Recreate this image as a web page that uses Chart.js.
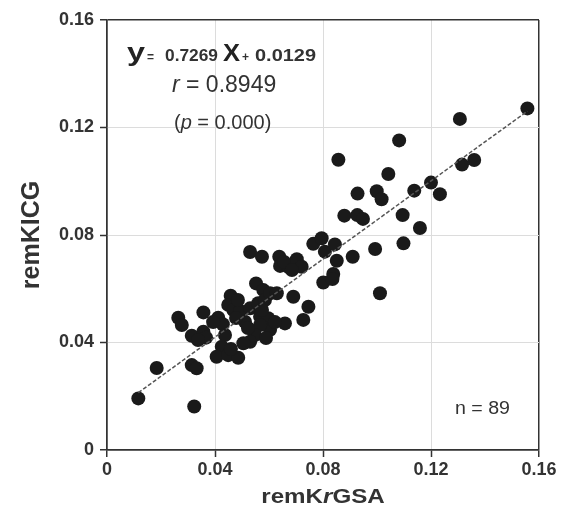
<!DOCTYPE html>
<html>
<head>
<meta charset="utf-8">
<script src="https://cdn.jsdelivr.net/npm/chart.js@4.4.1/dist/chart.umd.min.js"></script>
<style>
  html, body { margin: 0; padding: 0; background: #ffffff; }
  #wrap { position: relative; width: 561px; height: 517px; }
</style>
</head>
<body>
<div id="wrap"><canvas id="c" width="561" height="517"></canvas></div>
<script>
// ---- data ----
const xValues = [
  0.0116, 0.0184, 0.0323, 0.0314, 0.0332, 0.0264, 0.0277, 0.0314, 0.0357, 0.0357,
  0.0367, 0.0412, 0.0429, 0.0437, 0.0458, 0.0449, 0.0468, 0.0493, 0.0511, 0.0530,
  0.0552, 0.0579, 0.0560, 0.0585, 0.0604, 0.0629, 0.0690, 0.0567, 0.0597, 0.0604,
  0.0567, 0.0659, 0.0548, 0.0530, 0.0505, 0.0425, 0.0406, 0.0449, 0.0486, 0.0746,
  0.0727, 0.0530, 0.0574, 0.0638, 0.0641, 0.0671, 0.0703, 0.0721, 0.0764, 0.0795,
  0.0807, 0.0844, 0.0801, 0.0838, 0.0835, 0.0851, 0.0910, 0.0993, 0.1098, 0.1011,
  0.0879, 0.0927, 0.0948, 0.1095, 0.1159, 0.0928, 0.0999, 0.1017, 0.1138, 0.1200,
  0.1233, 0.1042, 0.0857, 0.1082, 0.1315, 0.1360, 0.1307, 0.1557, 0.0478, 0.0522,
  0.0574, 0.0485, 0.0622, 0.0393, 0.0589, 0.0656, 0.0685, 0.0459, 0.0337
];
const yValues = [
  0.0192, 0.0305, 0.0162, 0.0316, 0.0304, 0.0492, 0.0465, 0.0425, 0.0512, 0.0440,
  0.0418, 0.0492, 0.0468, 0.0428, 0.0574, 0.0540, 0.0521, 0.0517, 0.0477, 0.0527,
  0.0620, 0.0595, 0.0546, 0.0558, 0.0583, 0.0583, 0.0570, 0.0496, 0.0490, 0.0447,
  0.0465, 0.0471, 0.0428, 0.0403, 0.0397, 0.0384, 0.0347, 0.0353, 0.0343, 0.0533,
  0.0484, 0.0737, 0.0719, 0.0719, 0.0685, 0.0682, 0.0710, 0.0682, 0.0767, 0.0788,
  0.0738, 0.0765, 0.0623, 0.0655, 0.0636, 0.0704, 0.0719, 0.0748, 0.0769, 0.0583,
  0.0872, 0.0874, 0.0860, 0.0874, 0.0826, 0.0954, 0.0963, 0.0933, 0.0965, 0.0995,
  0.0952, 0.1027, 0.1080, 0.1152, 0.1062, 0.1079, 0.1232, 0.1271, 0.0491, 0.0454,
  0.0521, 0.0558, 0.0476, 0.0476, 0.0417, 0.0700, 0.0670, 0.0376, 0.0409
];
const slope = 0.7269;
const intercept = 0.0129;
const xTicks = [0, 0.04, 0.08, 0.12, 0.16];
const yTicks = [0, 0.04, 0.08, 0.12, 0.16];
const xTitle = ['remK', 'r', 'GSA'];
const yTitle = 'remKICG';
const nLabel = 'n = 89';

// ---- derived ----
const points = xValues.map((x, i) => ({ x: x, y: yValues[i] }));
const xMin = Math.min(...xValues), xMax = Math.max(...xValues);
const fitLine = [
  { x: xMin, y: slope * xMin + intercept },
  { x: xMax, y: slope * xMax + intercept }
];

const FONT = '"Liberation Sans", Arial, Helvetica, sans-serif';
const DARK = '#333333';
const GRID = '#dcdcdc';
const fmt = v => v === 0 ? '0' : v.toFixed(2);
const isEdge = v => Math.abs(v) < 1e-9 || Math.abs(v - 0.16) < 1e-9;

function fitText(ctx, t, font, x, y, w) {
  ctx.save();
  ctx.font = font;
  const m = ctx.measureText(t).width;
  ctx.translate(x, y);
  ctx.scale(w / m, 1);
  ctx.fillText(t, 0, 0);
  ctx.restore();
}

const textPlugin = {
  id: 'texts',
  afterDraw(chart) {
    const ctx = chart.ctx;
    const area = chart.chartArea;
    ctx.save();
    ctx.textBaseline = 'alphabetic';
    ctx.textAlign = 'left';
    // regression equation
    ctx.fillStyle = '#222';
    fitText(ctx, 'y', 'bold 25px ' + FONT, 127, 61, 18);
    ctx.fillStyle = '#333';
    fitText(ctx, '=', 'bold 13px ' + FONT, 147, 61, 7);
    fitText(ctx, '0.7269', 'bold 17px ' + FONT, 165, 61, 53);
    ctx.fillStyle = '#222';
    fitText(ctx, 'X', 'bold 23px ' + FONT, 223, 61, 17);
    ctx.fillStyle = '#333';
    fitText(ctx, '+', 'bold 12px ' + FONT, 242, 61, 7);
    fitText(ctx, '0.0129', 'bold 17px ' + FONT, 255, 61, 61);

    // r = 0.8949
    ctx.fillStyle = '#333';
    ctx.font = 'italic 23px ' + FONT;
    let x0 = 172;
    ctx.fillText('r', x0, 92);
    x0 += ctx.measureText('r').width;
    ctx.font = '23px ' + FONT;
    ctx.fillText(' = 0.8949', x0, 92);
    // (p = 0.000)
    ctx.font = '20px ' + FONT;
    x0 = 174;
    ctx.fillText('(', x0, 129);
    x0 += ctx.measureText('(').width;
    ctx.font = 'italic 20px ' + FONT;
    ctx.fillText('p', x0, 129);
    x0 += ctx.measureText('p').width;
    ctx.font = '20px ' + FONT;
    ctx.fillText(' = 0.000)', x0, 129);
    // n = 89
    ctx.font = '18px ' + FONT;
    fitText(ctx, nLabel, '18px ' + FONT, 455, 414, 55);

    // x axis title with italic r
    ctx.fillStyle = '#333';
    const parts = [
      { t: xTitle[0], f: 'bold 21px ' + FONT },
      { t: xTitle[1], f: 'italic bold 21px ' + FONT },
      { t: xTitle[2], f: 'bold 21px ' + FONT }
    ];
    let total = 0;
    parts.forEach(p => { ctx.font = p.f; p.w = ctx.measureText(p.t).width; total += p.w; });
    const sx = 1.15;
    const cx = (area.left + area.right) / 2;
    ctx.save();
    ctx.translate(cx - total * sx / 2, 503);
    ctx.scale(sx, 1);
    let px = 0;
    parts.forEach(p => { ctx.font = p.f; ctx.fillText(p.t, px, 0); px += p.w; });
    ctx.restore();

    // y axis title
    ctx.save();
    ctx.translate(39, (area.top + area.bottom) / 2);
    ctx.rotate(-Math.PI / 2);
    ctx.textAlign = 'center';
    ctx.font = 'bold 25px ' + FONT;
    ctx.fillText(yTitle, 0, 0);
    ctx.restore();
    ctx.restore();
  }
};

new Chart(document.getElementById('c'), {
  type: 'scatter',
  data: {
    datasets: [
      {
        type: 'line',
        data: fitLine,
        borderColor: '#555555',
        borderWidth: 1.5,
        borderDash: [4, 2],
        pointRadius: 0,
        fill: false
      },
      {
        data: points,
        backgroundColor: '#1a1a1a',
        borderWidth: 0,
        pointRadius: 7,
        pointHoverRadius: 7
      }
    ]
  },
  options: {
    responsive: false,
    animation: false,
    events: [],
    layout: { padding: { left: 0, right: 22, top: 20, bottom: 0 } },
    plugins: { legend: { display: false }, tooltip: { enabled: false } },
    scales: {
      x: {
        type: 'linear', min: 0, max: 0.16,
        afterBuildTicks: s => { s.ticks = xTicks.map(v => ({ value: v })); },
        afterFit: s => { s.height = 67; },
        ticks: { callback: fmt, color: DARK, font: { family: FONT, size: 18, weight: 'bold' }, padding: 2, maxRotation: 0 },
        grid: {
          color: c => isEdge(c.tick.value) ? DARK : GRID,
          lineWidth: c => isEdge(c.tick.value) ? 1.5 : 1,
          tickColor: DARK, tickLength: 7, tickWidth: 1.5, drawTicks: true
        },
        border: { color: DARK, width: 1.5 }
      },
      y: {
        type: 'linear', min: 0, max: 0.16,
        afterBuildTicks: s => { s.ticks = yTicks.map(v => ({ value: v })); },
        afterFit: s => { s.width = 107; },
        ticks: { callback: fmt, color: DARK, font: { family: FONT, size: 18, weight: 'bold' }, padding: 6 },
        grid: {
          color: c => isEdge(c.tick.value) ? DARK : GRID,
          lineWidth: c => isEdge(c.tick.value) ? 1.5 : 1,
          tickColor: DARK, tickLength: 7, tickWidth: 1.5, drawTicks: true
        },
        border: { color: DARK, width: 1.5 }
      }
    }
  },
  plugins: [textPlugin]
});
</script>
</body>
</html>
